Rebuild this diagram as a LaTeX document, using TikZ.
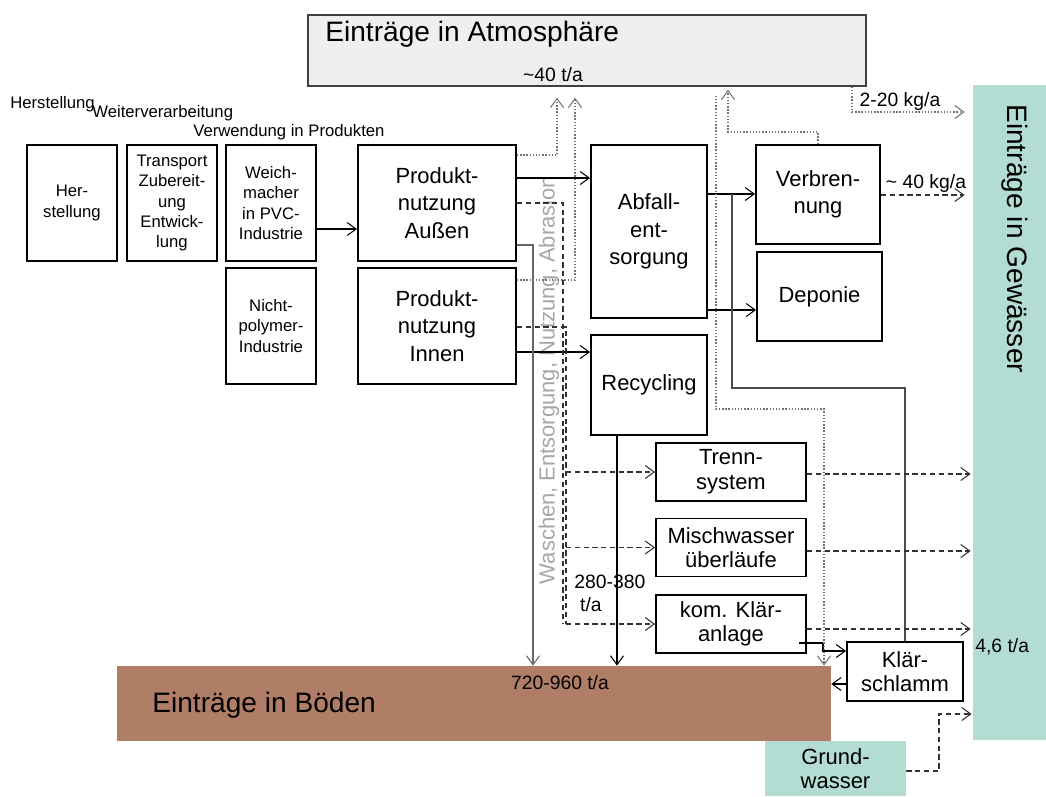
\documentclass[tikz,border=0pt]{standalone}
\usepackage{fontspec}
\setmainfont{Liberation Sans}
\usetikzlibrary{arrows.meta}
\definecolor{atmofill}{RGB}{238,240,238}
\definecolor{wasserfill}{RGB}{179,221,211}
\definecolor{bodenfill}{RGB}{176,125,102}
\tikzset{
    box/.style = {draw, line width = 1.1pt, inner sep = 0pt, align = center},
    smallbox/.style = {box, minimum width = 1.8cm, minimum height = 2.32cm, font = \fontsize{9.5}{11.6}\selectfont},
    bigbox/.style = {box, font = \fontsize{12.5}{15.5}\selectfont},
    waterbox/.style = {box, minimum width = 3cm, minimum height = 1.16cm, font = \fontsize{12.5}{14}\selectfont},
    sink/.style = {inner sep = 0pt, align = center, font = \fontsize{12.5}{14}\selectfont},
    headtext/.style = {inner sep = 0pt, font = \fontsize{16}{19}\selectfont},
    lbl/.style = {inner sep = 0pt, align = left, font = \fontsize{11}{13}\selectfont},
    toplbl/.style = {inner sep = 0pt, anchor = west, font = \fontsize{9.5}{11}\selectfont},
    arr/.style = {-{Straight Barb[length = 1.8mm, width = 2.6mm, line width = 0.6pt]}},
    conn/.style = {line width = 0.6pt},
    dotline/.style = {densely dotted, black!55, line width = 0.8pt},
    dashline/.style = {dash pattern = on 3pt off 2pt, black!80, line width = 0.6pt}
}
\begin{document}
\begin{tikzpicture}[x = 0.02cm, y = -0.02cm]
            \useasboundingbox (0,0) rectangle (1046,796);
            \node[sink, fill = atmofill, draw = black!75, line width = 0.8pt, minimum width = 11.16cm, minimum height = 1.42cm] (atmo) at (587,50.5) {};
            \node[sink, fill = wasserfill, minimum width = 1.46cm, minimum height = 13.1cm] (gew) at (1009.5,412.5) {};
            \node[sink, fill = bodenfill, minimum width = 14.28cm, minimum height = 1.5cm] (boden) at (474,703.5) {};
            \node[sink, fill = wasserfill, minimum width = 2.82cm, minimum height = 1.1cm] (grund) at (835.5,768.5) {Grund-\\wasser};
            \node[headtext, anchor = west] (atmotext) at (325,34) {Einträge in Atmosphäre};
            \node[headtext, anchor = west, rotate = -90] (gewtext) at (1015,104) {Einträge in Gewässer};
            \node[headtext, anchor = west] (bodentext) at (152,705) {Einträge in Böden};
            \node[smallbox] (herst) at (72,203) {Her-\\stellung};
            \node[smallbox] (transp) at (172,203) {Transport\\Zubereit-\\ung\\Entwick-\\lung};
            \node[smallbox] (weich) at (271,203) {Weich-\\macher\\in PVC-\\Industrie};
            \node[smallbox] (nicht) at (271,326) {Nicht-\\polymer-\\Industrie};
            \node[bigbox, minimum width = 3.16cm, minimum height = 2.32cm] (aussen) at (437,203) {Produkt-\\nutzung\\Außen};
            \node[bigbox, minimum width = 3.16cm, minimum height = 2.32cm] (innen) at (437,326) {Produkt-\\nutzung\\Innen};
            \node[bigbox, minimum width = 2.32cm, minimum height = 3.46cm] (abfall) at (649,231.5) {Abfall-\\ent-\\sorgung};
            \node[bigbox, minimum width = 2.32cm, minimum height = 2cm] (recyc) at (649,385) {Recycling};
            \node[bigbox, minimum width = 2.48cm, minimum height = 1.98cm] (verbr) at (818,194.5) {Verbren-\\nung};
            \node[bigbox, minimum width = 2.5cm, minimum height = 1.78cm] (depon) at (819.5,296.5) {Deponie};
            \node[waterbox] (trenn) at (731,472) {Trenn-\\system};
            \node[waterbox] (misch) at (731,547.5) {Mischwasser\\überläufe};
            \node[waterbox] (klaer) at (731,624) {kom. Klär-\\anlage};
            \node[waterbox, minimum width = 2.32cm, minimum height = 1.18cm] (schlamm) at (905,671.5) {Klär-\\schlamm};
            \begin{scope}[every node/.append style = {lbl}]
                \node (atmomass) at (553,75) {\textasciitilde40 t/a};
                \node (bodenmass) at (560,683) {720-960 t/a};
                \node[anchor = west] (recmass) at (574,593) {280-380\\\hspace*{0.3em}t/a};
                \node (gewmass1) at (900,101) {2-20 kg/a};
                \node (gewmass2) at (926,183) {\textasciitilde{} 40 kg/a};
                \node[anchor = west] (gewmass3) at (975,647) {4,6 t/a};
            \end{scope}
            \node[toplbl] (lherst) at (10,104) {Herstellung};
            \node[toplbl] (lweiter) at (92,113) {Weiterverarbeitung};
            \node[toplbl] (lverw) at (193,132) {Verwendung in Produkten};
            \node[rotate = 90, inner sep = 0pt, text = black!35, font = \fontsize{12.5}{14}\selectfont] (wasch) at (549,380) {Waschen, Entsorgung, Nutzung, Abrasion};
            \coordinate (branch) at (732,194);
            \begin{scope}[conn]
                \draw[arr] (weich.east |- 0,229) -- (aussen.west |- 0,229);
                \draw[arr] (aussen.east |- 0,178) -- (abfall.west |- 0,178);
                \draw[arr] (innen.east |- 0,352) -- (recyc.west |- 0,352);
                \draw[arr] (abfall.east |- 0,194) -- (verbr.west |- 0,194);
                \draw[arr] (abfall.east |- 0,310) -- (depon.west |- 0,310);
                \draw[arr] (recyc.south -| 617,0) -- (boden.north -| 617,0);
                \draw[arr, black!60] (aussen.east |- 0,245) -| (boden.north -| 533,0);
                \draw[black!70] (schlamm.north) |- (732,388) -- (branch);
                \draw[arr] (klaer.east |- 0,643) ++(-8,0) -| (823,651) -- (schlamm.west |- 0,651);
                \draw[arr] (schlamm.west |- 0,684) -- (boden.east |- 0,684);
            \end{scope}
            \begin{scope}[dotline]
                \draw[arr, shorten >= 2.2mm] (aussen.east |- 0,155) -| (atmo.south -| 557,0);
                \draw[arr, shorten >= 2.2mm] (innen.east |- 0,280) -| (atmo.south -| 575,0);
                \draw[arr, shorten >= 0.6mm] (verbr.north) |- (728,132) -- (atmo.south -| 728,0);
                \draw[arr, shorten <= 1.8mm] (atmo.south -| 716,0) |- (824,409) -- (boden.north -| 824,0);
                \draw[arr, shorten >= 1.6mm] (atmo.south -| 852,0) |- (gew.west |- 0,112);
            \end{scope}
            \begin{scope}[dashline]
                \draw (aussen.east |- 0,203) -| (563,0 |- klaer.west);
                \draw (innen.east |- 0,327) -| (566,0 |- klaer.west);
                \foreach \n in {trenn,misch,klaer}
                    \draw[arr] (566,0 |- \n.west) -- (\n.west);
                \foreach \n/\y in {trenn/474,misch/551,klaer/629}
                    \draw[arr, shorten >= 0.4mm] (\n.east |- 0,\y) -- (gew.west |- 0,\y);
                \draw[arr, shorten >= 1.6mm] (verbr.east |- 0,195) -- (gew.west |- 0,195);
                \draw[arr, shorten >= 0.2mm] (grund.east |- 0,771) -| (939,714) -- (gew.west |- 0,714);
            \end{scope}
        \end{tikzpicture}
\end{document}
